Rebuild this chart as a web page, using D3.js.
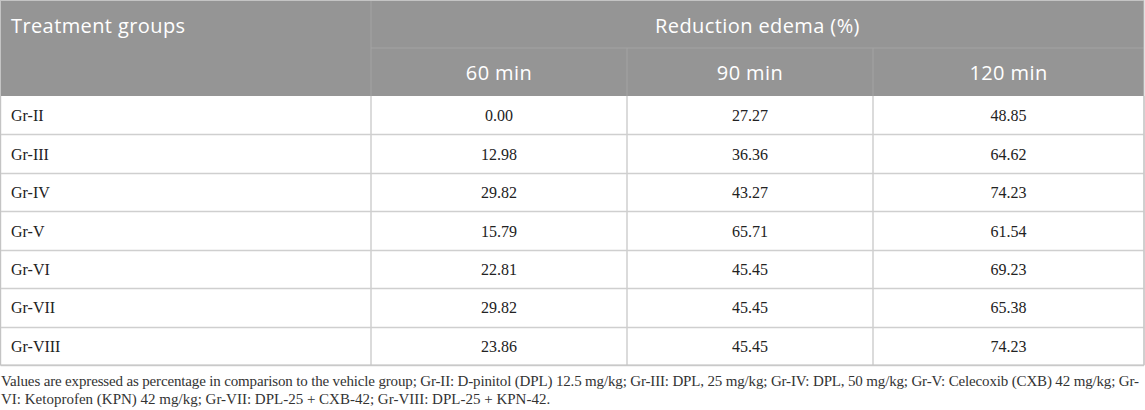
<!DOCTYPE html>
<html>
<head>
<meta charset="utf-8">
<script src="https://cdn.jsdelivr.net/npm/d3@7"></script>
<style>
  body { margin: 0; background: #fff; }
  svg { display: block; }
</style>
</head>
<body>
<div id="table"></div>
<script>
// table data
var groups = ["Gr-II", "Gr-III", "Gr-IV", "Gr-V", "Gr-VI", "Gr-VII", "Gr-VIII"];
var times = ["60 min", "90 min", "120 min"];
var v60 = ["0.00", "12.98", "29.82", "15.79", "22.81", "29.82", "23.86"];
var v90 = ["27.27", "36.36", "43.27", "65.71", "45.45", "45.45", "45.45"];
var v120 = ["48.85", "64.62", "74.23", "61.54", "69.23", "65.38", "74.23"];
var footnote = [
  "Values are expressed as percentage in comparison to the vehicle group; Gr-II: D-pinitol (DPL) 12.5 mg/kg; Gr-III: DPL, 25 mg/kg; Gr-IV: DPL, 50 mg/kg; Gr-V: Celecoxib (CXB) 42 mg/kg; Gr-",
  "VI: Ketoprofen (KPN) 42 mg/kg; Gr-VII: DPL-25 + CXB-42; Gr-VIII: DPL-25 + KPN-42."
];

var svgWidth = 1145;
var svgHeight = 410;

var svg = d3.select("#table")
  .append("svg")
  .attr("width", svgWidth)
  .attr("height", svgHeight);

// column edges (layout)
var edges = [0.5, 371, 627, 873, 1144];
var headTop = 0.5, headMid = 48, headBottom = 96, tableBottom = 365;

var y = d3.scaleBand()
  .domain(groups)
  .range([headBottom, tableBottom]);

var serif = "'Liberation Serif', 'DejaVu Serif', serif";
var sans = "'Open Sans', 'Noto Sans', sans-serif";

// header background
svg.append("rect")
  .attr("x", edges[0]).attr("y", headTop)
  .attr("width", edges[4] - edges[0]).attr("height", headBottom - headTop)
  .attr("fill", "#959595");

// header lines
svg.append("line")
  .attr("x1", edges[1]).attr("x2", edges[4])
  .attr("y1", headMid).attr("y2", headMid)
  .attr("stroke", "#a3a3a3").attr("stroke-width", 1);

svg.selectAll(".hsep")
  .data([1, 2, 3])
  .enter()
  .append("line")
  .attr("x1", i => edges[i]).attr("x2", i => edges[i])
  .attr("y1", i => i === 1 ? headTop : headMid)
  .attr("y2", headBottom)
  .attr("stroke", "#a3a3a3").attr("stroke-width", 1);

// header text
svg.append("text")
  .attr("x", 11).attr("y", 33)
  .attr("fill", "#fff")
  .style("font-family", sans).style("font-size", "20px")
  .style("letter-spacing", "0.4px")
  .text("Treatment groups");

svg.append("text")
  .attr("x", (edges[1] + edges[4]) / 2).attr("y", 33)
  .attr("text-anchor", "middle")
  .attr("fill", "#fff")
  .style("font-family", sans).style("font-size", "20px")
  .style("letter-spacing", "0.4px")
  .text("Reduction edema (%)");

svg.selectAll(".timeLabel")
  .data(times)
  .enter()
  .append("text")
  .attr("x", (d, i) => (edges[i + 1] + edges[i + 2]) / 2)
  .attr("y", 80)
  .attr("text-anchor", "middle")
  .attr("fill", "#fff")
  .style("font-family", sans).style("font-size", "20px")
  .style("letter-spacing", "0.4px")
  .text(d => d);

// body grid
svg.selectAll(".rowline")
  .data(groups)
  .enter()
  .append("line")
  .attr("x1", edges[0]).attr("x2", edges[4])
  .attr("y1", d => Math.round(y(d) + y.bandwidth()) + 0.5)
  .attr("y2", d => Math.round(y(d) + y.bandwidth()) + 0.5)
  .attr("stroke", "#cfcfcf").attr("stroke-width", 1.5);

svg.selectAll(".colline")
  .data(edges)
  .enter()
  .append("line")
  .attr("x1", d => d).attr("x2", d => d)
  .attr("y1", headBottom).attr("y2", tableBottom)
  .attr("stroke", "#cfcfcf").attr("stroke-width", 1.5);

// outer border
svg.append("rect")
  .attr("x", edges[0]).attr("y", headTop)
  .attr("width", edges[4] - edges[0]).attr("height", tableBottom - headTop)
  .attr("fill", "none")
  .attr("stroke", "#c4c4c4").attr("stroke-width", 1);

// group names
svg.selectAll(".grp")
  .data(groups)
  .enter()
  .append("text")
  .attr("x", 11)
  .attr("y", d => y(d) + y.bandwidth() / 2 + 6)
  .attr("fill", "#222")
  .style("font-family", serif).style("font-size", "16px")
  .text(d => d);

// values
[v60, v90, v120].forEach(function(vals, c) {
  svg.selectAll(".val" + c)
    .data(vals)
    .enter()
    .append("text")
    .attr("x", (edges[c + 1] + edges[c + 2]) / 2)
    .attr("y", (d, i) => y(groups[i]) + y.bandwidth() / 2 + 6)
    .attr("text-anchor", "middle")
    .attr("fill", "#222")
    .style("font-family", serif).style("font-size", "16px")
    .text(d => d);
});

// footnote
svg.append("text")
  .attr("x", 1).attr("y", 386)
  .attr("fill", "#333")
  .attr("textLength", 1138)
  .attr("lengthAdjust", "spacing")
  .style("font-family", serif).style("font-size", "15px")
  .text(footnote[0]);

svg.append("text")
  .attr("x", 1).attr("y", 404)
  .attr("fill", "#333")
  .style("font-family", serif).style("font-size", "15px")
  .text(footnote[1]);
</script>
</body>
</html>
